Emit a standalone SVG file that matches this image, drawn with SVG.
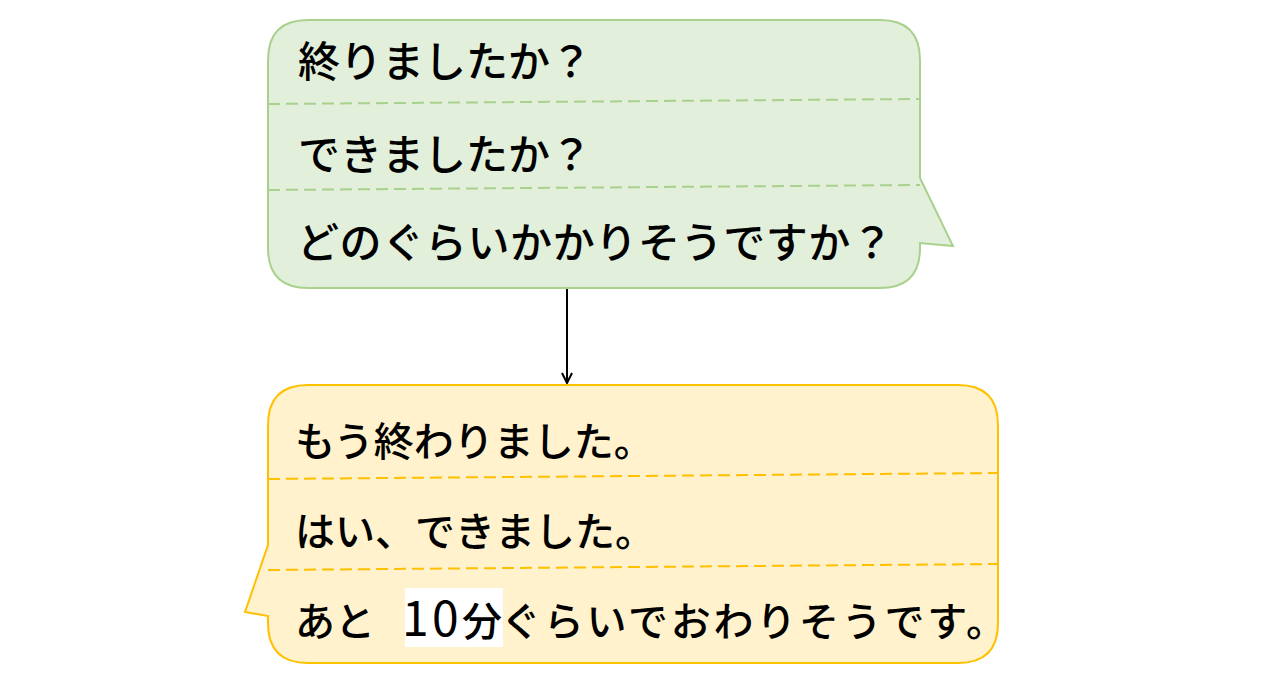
<svg xmlns="http://www.w3.org/2000/svg" width="1277" height="682" viewBox="0 0 1277 682">
  <defs>
    <style>
      .t { font-family: "Noto Sans CJK JP", "Noto Sans CJK SC", sans-serif; fill: #000000; font-weight: 500; }
      .top { font-size: 42px; }
      .bot { font-size: 40px; }
      .num { font-size: 48px; font-weight: 400; }
      .gdash { stroke: #a9d18e; stroke-width: 2; stroke-dasharray: 12 6; fill: none; }
      .ydash { stroke: #ffc000; stroke-width: 2; stroke-dasharray: 12 6; fill: none; }
      .conn { stroke: #000000; stroke-width: 2; fill: none; }
    </style>
    <marker id="arr" viewBox="0 0 12 12" refX="11" refY="6" markerWidth="12" markerHeight="12" markerUnits="userSpaceOnUse" orient="auto">
      <path d="M1,1 L11,6 L1,11" fill="none" stroke="#000000" stroke-width="2"/>
    </marker>
  </defs>
  <rect width="1277" height="682" fill="#ffffff"/>

  <g id="question-bubble">
    <path d="M308,20 H880 Q920,20 920,60 V178 L953,246 L920,243 V248 Q920,288 880,288 H308 Q268,288 268,248 V60 Q268,20 308,20 Z" fill="#e2efda" stroke="#a9d18e" stroke-width="2"/>
    <line class="gdash" x1="268" y1="104" x2="920" y2="99"/>
    <line class="gdash" x1="268" y1="190" x2="920" y2="185"/>
    <text class="t top" x="298" y="77">終りましたか？</text>
    <text class="t top" x="298" y="170">できましたか？</text>
    <text class="t top" x="297" y="258" textLength="596" lengthAdjust="spacing">どのぐらいかかりそうですか？</text>
  </g>

  <g id="answer-bubble">
    <path d="M308,385 H958 Q998,385 998,425 V623 Q998,663 958,663 H308 Q268,663 268,623 V616 L245,612 L268,545 V425 Q268,385 308,385 Z" fill="#fff2cc" stroke="#ffc000" stroke-width="2"/>
    <line class="ydash" x1="268" y1="479" x2="998" y2="473"/>
    <line class="ydash" x1="268" y1="570" x2="998" y2="564"/>
    <rect x="405" y="588" width="98" height="59" fill="#ffffff"/>
    <text class="t bot" x="295" y="456">もう終わりました。</text>
    <text class="t bot" x="295" y="546">はい、できました。</text>
    <text class="t bot" x="295" y="636">あと<tspan class="num" x="402 432">10</tspan><tspan x="462">分</tspan><tspan x="501" textLength="505" lengthAdjust="spacing">ぐらいでおわりそうです。</tspan></text>
  </g>

  <g id="connectors">
    <line class="conn" x1="567" y1="289" x2="567" y2="383" marker-end="url(#arr)"/>
  </g>
</svg>
